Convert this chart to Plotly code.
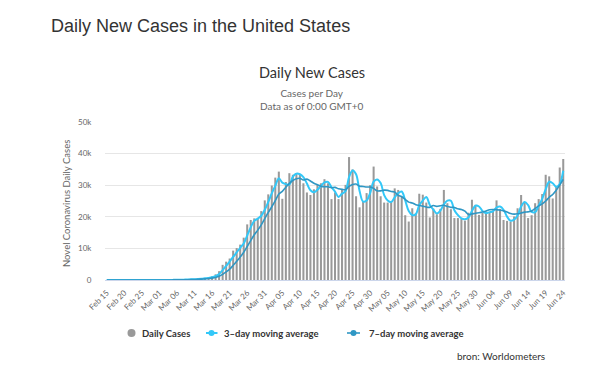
import plotly.graph_objects as go
import pandas as pd

# ---- data ----
dates = pd.date_range("2020-02-15", "2020-06-24", freq="D")

daily_cases = [
    0, 0, 0, 0, 0, 0, 1, 0, 0, 0, 3, 1, 1, 3, 8,
    8, 23, 24, 26, 73, 100, 117, 122, 196, 289, 296, 430, 577, 644, 765, 1190,
    1800, 2800, 4800, 5800, 6800, 9300, 10100, 11200, 13400, 17600, 19000, 19500,
    19700, 21800, 25200,
    27100, 29900, 32400, 34300, 25700, 31000, 33800, 33300, 33800, 33300, 30600,
    27700, 26900, 28700, 30100, 30600, 31900, 30600, 25600, 27700, 25600, 28700,
    30100, 38900, 35000, 26500, 23000, 25000, 27500, 30000,
    35900, 29600, 26500, 24500, 24500, 25000, 29000, 28500, 26500, 20500, 18500,
    22700, 21100, 27300, 27000, 24500, 19800, 22600, 20800, 22500, 28500, 24300,
    22400, 19600, 19600, 19300, 18800, 21300, 25400, 23800, 20600,
    21200, 21700, 21500, 22000, 25200, 22500, 19000, 18700, 18500, 20100, 22700,
    26900, 24500, 19600, 20500, 24300, 25600, 27200, 33300, 32800, 25800, 29800,
    35600, 38300,
]

avg_3day = [
    0, 0, 0, 0, 0, 0, 0, 0, 0, 0, 1, 1, 2, 2, 4,
    6, 13, 18, 24, 41, 66, 97, 113, 145, 202, 260, 338, 434, 550, 662, 866,
    1252, 1930, 3133, 4467, 5800, 7300, 8733, 10200, 11567, 14067, 16667, 18700,
    19400, 20333, 22233,
    24700, 27400, 29800, 32200, 30800, 30333, 30167, 32700, 33633, 33467, 32567,
    30533, 28400, 27767, 28567, 29800, 30867, 31033, 29367, 27967, 26300, 27333,
    28133, 32567, 34667, 33467, 28167, 24833, 25167, 27500,
    31133, 31833, 30667, 26867, 25167, 24667, 26167, 27500, 28000, 25167, 21833,
    20567, 20767, 23700, 25133, 26267, 23767, 22300, 21067, 21967, 23933, 25100,
    25067, 22100, 20533, 19500, 19233, 19800, 21833, 23500, 23267,
    21867, 21167, 21467, 21733, 22900, 23233, 22233, 20067, 18733, 19100, 20433,
    23233, 24700, 23667, 21533, 21467, 23467, 25700, 28700, 31100, 30633, 29467,
    30400, 34567,
]

avg_7day = [
    0, 0, 0, 0, 0, 0, 0, 0, 0, 0, 1, 1, 1, 1, 2,
    3, 7, 10, 13, 24, 37, 53, 69, 94, 132, 170, 221, 290, 365, 457, 599,
    815, 1172, 1797, 2543, 3422, 4641, 5914, 7257, 8771, 10600, 12486, 14300,
    15786, 17457, 19457,
    21414, 23171, 25086, 27200, 28057, 29371, 30600, 31486, 32043, 32171, 31643,
    31929, 31343, 30614, 30157, 29700, 29500, 29500, 29200, 29314, 28871, 28671,
    28600, 29600, 30229, 30357, 29686, 29600, 29429, 29414,
    28986, 28214, 28214, 28429, 28357, 28000, 27857, 26800, 26357, 25500, 24643,
    24386, 23829, 23586, 23371, 23086, 22986, 23571, 23300, 23500, 23671, 23286,
    22986, 22957, 22529, 22314, 21786, 20757, 20914, 21114, 21257,
    21486, 21829, 22214, 22314, 22286, 22100, 21871, 21514, 21057, 20857, 20957,
    21200, 21486, 21571, 21829, 22657, 23443, 24086, 25000, 26186, 27071, 28400,
    30014, 31829,
]

x_tick_labels = [
    "Feb 15", "Feb 20", "Feb 25", "Mar 01", "Mar 06", "Mar 11", "Mar 16",
    "Mar 21", "Mar 26", "Mar 31", "Apr 05", "Apr 10", "Apr 15", "Apr 20",
    "Apr 25", "Apr 30", "May 05", "May 10", "May 15", "May 20", "May 25",
    "May 30", "Jun 04", "Jun 09", "Jun 14", "Jun 19", "Jun 24",
]
y_tick_values = [0, 10000, 20000, 30000, 40000, 50000]
y_tick_labels = ["0", "10k", "20k", "30k", "40k", "50k"]

series_names = ["Daily Cases", "3-day moving average", "7-day moving average"]

# ---- styling ----
# the page body has an 8px margin, so the figure is 592x365 placed at (8, 8)
W, H = 592, 365
ML, MR, MT, MB = 97, 35, 114, 93
PW, PH = W - ML - MR, H - MT - MB
PLOT_LEFT_SCREEN, PLOT_BOTTOM_SCREEN = 105, 280
BAR_COLOR = "#999999"
C3 = "#33c8f8"
C7 = "#2f97c4"
FONT = "Lato"


def px(xp):
    return (xp - PLOT_LEFT_SCREEN) / PW


def py(yp):
    return (PLOT_BOTTOM_SCREEN - yp) / PH


fig = go.Figure()
fig.add_trace(go.Bar(x=dates, y=daily_cases, name=series_names[0],
                     marker=dict(color=BAR_COLOR, line=dict(width=0)),
                     showlegend=False))
fig.add_trace(go.Scatter(x=dates, y=avg_3day, name=series_names[1], mode="lines",
                         line=dict(color=C3, width=2, shape="spline", smoothing=1),
                         showlegend=False))
fig.add_trace(go.Scatter(x=dates, y=avg_7day, name=series_names[2], mode="lines",
                         line=dict(color=C7, width=1.6, shape="spline", smoothing=1),
                         showlegend=False))

annotations = [
    dict(text="Daily New Cases in the United States", x=px(49), y=py(26),
         xanchor="left", yanchor="middle",
         font=dict(family="Liberation Sans, Arial", size=18, color="#333333")),
    dict(text="Daily New Cases", x=px(312), y=py(72), xanchor="center", yanchor="middle",
         font=dict(family=FONT, size=14.5, color="#333333")),
    dict(text="Cases per Day<br>Data as of 0:00 GMT+0", x=px(312), y=py(100),
         xanchor="center", yanchor="middle",
         font=dict(family=FONT, size=10, color="#666666")),
    dict(text="Novel Coronavirus Daily Cases", x=px(66), y=py(204), textangle=-90,
         xanchor="center", yanchor="middle",
         font=dict(family=FONT, size=9.5, color="#666666")),
    dict(text="<b>" + series_names[0] + "</b>", x=px(140), y=py(333),
         xanchor="left", yanchor="middle",
         font=dict(family=FONT, size=9.5, color="#333333")),
    dict(text="<b>" + series_names[1].replace("-", "\u2013") + "</b>", x=px(222), y=py(333),
         xanchor="left", yanchor="middle",
         font=dict(family=FONT, size=9.5, color="#333333")),
    dict(text="<b>" + series_names[2].replace("-", "\u2013") + "</b>", x=px(367), y=py(333),
         xanchor="left", yanchor="middle",
         font=dict(family=FONT, size=9.5, color="#333333")),
    dict(text="bron: Worldometers", x=px(455), y=py(356), xanchor="left", yanchor="middle",
         font=dict(family=FONT, size=10, color="#333333")),
]
for a in annotations:
    a.update(xref="paper", yref="paper", showarrow=False)

shapes = [
    # legend symbols
    dict(type="circle", x0=px(127.5), x1=px(135.5), y0=py(329), y1=py(337),
         fillcolor=BAR_COLOR, line=dict(width=0)),
    dict(type="line", x0=px(206), x1=px(217.5), y0=py(333), y1=py(333),
         line=dict(color=C3, width=2)),
    dict(type="circle", x0=px(208.5), x1=px(214.5), y0=py(330), y1=py(336),
         fillcolor=C3, line=dict(width=0)),
    dict(type="line", x0=px(347), x1=px(360), y0=py(333), y1=py(333),
         line=dict(color=C7, width=1.6)),
    dict(type="circle", x0=px(350.5), x1=px(356.5), y0=py(330), y1=py(336),
         fillcolor=C7, line=dict(width=0)),
]
for s in shapes:
    s.update(xref="paper", yref="paper")

fig.update_layout(
    width=W, height=H, autosize=False,
    margin=dict(l=ML, r=MR, t=MT, b=MB, pad=0),
    paper_bgcolor="white", plot_bgcolor="white",
    bargap=0.42,
    showlegend=False,
    annotations=annotations,
    shapes=shapes,
    font=dict(family=FONT),
    xaxis=dict(
        type="date",
        range=[dates[0] - pd.Timedelta(hours=12), dates[-1] + pd.Timedelta(hours=12)],
        tickmode="array", tickvals=list(dates[::5]), ticktext=x_tick_labels,
        tickangle=-45, tickfont=dict(family=FONT, size=8, color="#666666"),
        ticks="outside", ticklen=4, tickcolor="rgba(0,0,0,0)",
        showgrid=False, zeroline=False,
        showline=True, linecolor="#ccd6eb", linewidth=1,
        fixedrange=True,
    ),
    yaxis=dict(
        range=[0, 50000],
        tickmode="array", tickvals=y_tick_values, ticktext=y_tick_labels,
        tickfont=dict(family=FONT, size=8, color="#666666"),
        ticks="outside", ticklen=11, tickcolor="rgba(0,0,0,0)",
        showgrid=True, gridcolor="#e6e6e6", gridwidth=1,
        zeroline=False, showline=False,
        fixedrange=True,
    ),
)

fig.write_html("out.html")
